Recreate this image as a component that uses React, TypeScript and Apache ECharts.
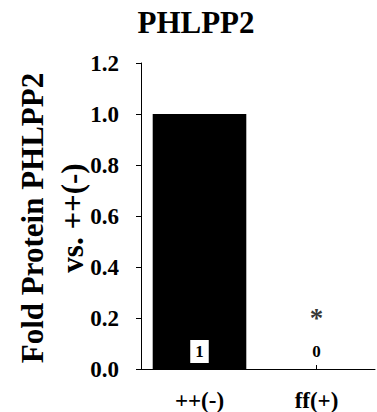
import React, { useEffect, useRef } from "react";
import * as echarts from "echarts";

const categories = ["++(-)", "ff(+)"];
const foldValues = [1, 0];
const significance = [null, 0.2];
const yTicks = { min: 0, max: 1.2, interval: 0.2 };
const titleText = "PHLPP2";
const yName = "Fold Protein PHLPP2\nvs. ++(-)";

const FONT = "Liberation Serif";

export default function App() {
  const ref = useRef<HTMLDivElement>(null);
  useEffect(() => {
    if (!ref.current) return;
    const chart = echarts.init(ref.current, null, { renderer: "svg" });
    chart.setOption({
      animation: false,
      backgroundColor: "#ffffff",
      title: {
        text: titleText,
        left: 191,
        top: 2,
        textAlign: "center",
        textStyle: { fontFamily: FONT, fontWeight: "bold", fontSize: 31, color: "#000" },
      },
      graphic: [
        {
          type: "text",
          x: 52,
          y: 218,
          rotation: Math.PI / 2,
          style: {
            text: yName,
            fontFamily: FONT,
            fontWeight: "bold",
            fontSize: 31,
            lineHeight: 40,
            fill: "#000",
            align: "center",
            verticalAlign: "middle",
          },
        },
      ],
      grid: { left: 141, right: 2, top: 63, bottom: 42, containLabel: false },
      xAxis: {
        type: "category",
        data: categories,
        axisLine: { lineStyle: { color: "#000", width: 1 } },
        axisTick: { show: true, alignWithLabel: true, inside: true, length: 4, lineStyle: { color: "#000" } },
        axisLabel: { fontFamily: FONT, fontWeight: "bold", fontSize: 23, color: "#000", margin: 20 },
        splitLine: { show: false },
      },
      yAxis: {
        type: "value",
        min: yTicks.min,
        max: yTicks.max,
        interval: yTicks.interval,
        axisLine: { show: true, lineStyle: { color: "#000", width: 1 } },
        axisTick: { show: true, inside: false, length: 5, lineStyle: { color: "#000" } },
        axisLabel: {
          fontFamily: FONT,
          fontWeight: "bold",
          fontSize: 23,
          color: "#000",
          margin: 22,
          formatter: (v: number) => v.toFixed(1),
        },
        splitLine: { show: false },
      },
      series: [
        {
          type: "bar",
          data: foldValues.map((v, i) =>
            i === 0
              ? { value: v }
              : { value: v, label: { backgroundColor: "transparent" } }
          ),
          barCategoryGap: "20%",
          itemStyle: { color: "#000" },
          label: {
            show: true,
            position: "insideBottom",
            distance: 6,
            fontFamily: FONT,
            fontWeight: "bold",
            fontSize: 17,
            color: "#000",
            backgroundColor: "#fff",
            padding: [3, 5],
          },
        },
        {
          type: "scatter",
          data: significance.map((v) => (v == null ? null : v)),
          symbolSize: 0,
          label: {
            show: true,
            position: "inside",
            formatter: "*",
            fontFamily: FONT,
            fontWeight: "bold",
            fontSize: 27,
            color: "#000",
          },
        },
      ],
    });
    return () => chart.dispose();
  }, []);
  return (
    <div
      ref={ref}
      style={{ position: "absolute", left: 0, top: 0, width: 377, height: 412 }}
    />
  );
}
